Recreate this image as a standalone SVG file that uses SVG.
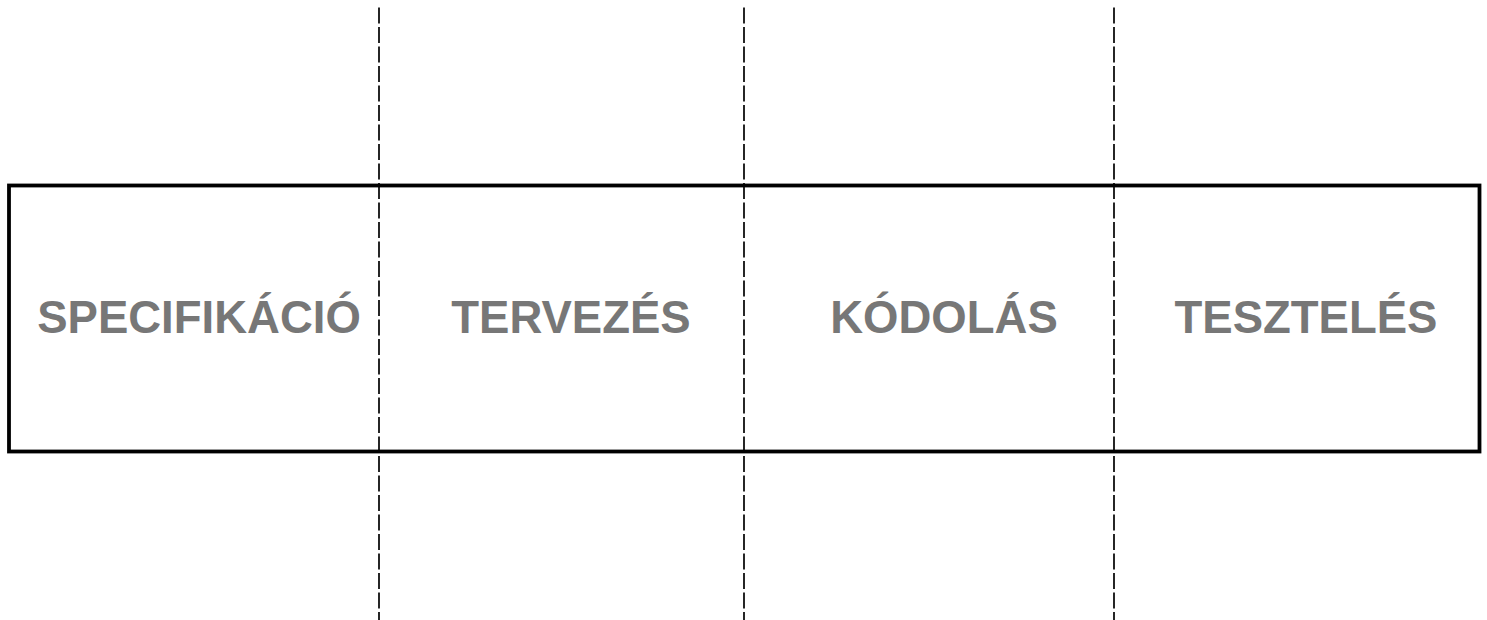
<svg xmlns="http://www.w3.org/2000/svg" width="1487" height="620" viewBox="0 0 1487 620">
<style>
.box{fill:none;stroke:#000;stroke-width:3.8}
.div{stroke:#000;stroke-width:1.7;stroke-dasharray:16 3.5;fill:none}
.lbl{font-family:"Liberation Sans",Arial,sans-serif;font-weight:bold;font-size:45.5px;fill:#777;text-anchor:middle}
</style>
<rect width="1487" height="620" fill="#fff"/>
<g id="frame"><rect class="box" x="9" y="185.5" width="1470.5" height="266"/></g>
<g id="connectors">
<line class="div" x1="379" y1="7.5" x2="379" y2="620"/>
<line class="div" x1="744" y1="7.5" x2="744" y2="620"/>
<line class="div" x1="1114" y1="7.5" x2="1114" y2="620"/>
</g>
<g id="spec"><text class="lbl" x="199" y="333">SPECIFIKÁCIÓ</text></g>
<g id="terv"><text class="lbl" x="571" y="333">TERVEZÉS</text></g>
<g id="kod"><text class="lbl" x="944" y="333">KÓDOLÁS</text></g>
<g id="teszt"><text class="lbl" x="1306" y="333">TESZTELÉS</text></g>
</svg>
